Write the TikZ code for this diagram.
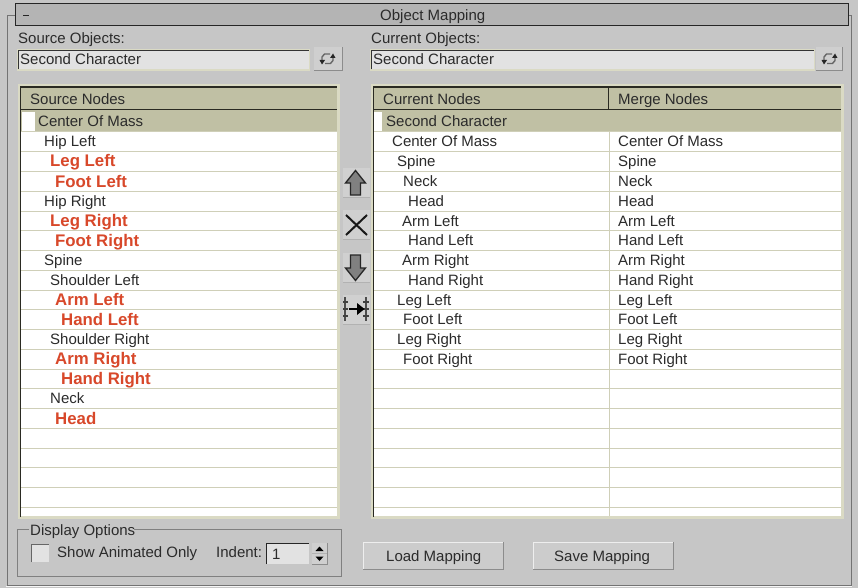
\documentclass[tikz,border=0pt]{standalone}
\usepackage{fontspec}
\setmainfont{Liberation Sans}
\definecolor{bg}{HTML}{C6C6C6}
\definecolor{bar}{HTML}{B4B4B4}
\definecolor{olive}{HTML}{C0C0A4}
\definecolor{rowline}{HTML}{CFCFB8}
\definecolor{framelight}{HTML}{DADAC4}
\definecolor{darkline}{HTML}{2A2A22}
\definecolor{field}{HTML}{E2E2E2}
\definecolor{redtxt}{HTML}{D8482A}
\definecolor{txtc}{HTML}{2B2B2B}
\tikzset{
  txt/.style={anchor=base west,inner sep=0pt,text=txtc,font=\fontsize{15}{16}\selectfont,yshift=-5pt},
  redt/.style={anchor=base west,inner sep=0pt,text=redtxt,font=\fontsize{16.8}{17}\selectfont\bfseries,yshift=-5.5pt},
  icon/.style={draw=black!85,fill=black!50,line width=1.3pt,line join=miter},
}
\begin{document}
\begin{tikzpicture}[x=1pt,y=-1pt]
\useasboundingbox (0,0) rectangle (858,588);
\fill[bg] (0,0) rectangle (858,588);
% rollout frame
\draw[black!55,line width=1pt] (15,15.5) -- (7,15.5) -- (7,585) -- (851,585) -- (851,15.5) -- (848,15.5);
\draw[white!85!bg,line width=1pt] (6,586.5) -- (852,586.5);
% title bar
\node[draw=black!85,fill=bar,line width=1pt,minimum width=833pt,minimum height=22pt,inner sep=0pt] (titlebar) at (431.5,15) {};
\node[txt] (title) at (380,15.5) {Object Mapping};
\node[draw=none,fill=black!85,minimum width=6pt,minimum height=1.2pt,inner sep=0pt] (minus) at (26,15.5) {};
% source / current object fields
\node[txt] (srclabel) at (18,38.5) {Source Objects:};
\node[txt] (curlabel) at (371,38.5) {Current Objects:};
\foreach \na/\xa/\xb/\ba/\bb in {srcfield/17/310/314/342,curfield/370/815/816/842}{
  \fill[framelight] (\xa,49) rectangle (\xb,71);
  \fill[field] (\xa+2,51) rectangle (\xb-1,69.5);
  \draw[black!80,line width=1pt] (\xa+1.5,69.5) -- (\xa+1.5,50.5) -- (\xb-1,50.5);
  \fill[bg!85!white] (\ba,47) rectangle (\bb,71);
  \draw[black!45,line width=1pt] (\ba,71) -- (\bb,71) -- (\bb,47);
  \draw[black!60,line width=1.4pt] (\ba+16,54) -- (\ba+10.5,54) -- (\ba+8,57) -- (\ba+8,61);
  \draw[black!60,line width=1.4pt] (\ba+11,63.5) -- (\ba+16.5,63.5) -- (\ba+19,60.5) -- (\ba+19,57);
  \fill[black!85] (\ba+5.5,60) -- (\ba+11,60) -- (\ba+8,64.5) -- cycle;
  \fill[black!85] (\ba+16,58) -- (\ba+21.5,58) -- (\ba+19,53.5) -- cycle;
}
\node[txt] (srcval) at (20,60) {Second Character};
\node[txt] (curval) at (373,60) {Second Character};
% left table
\fill[framelight] (18,84) rectangle (340,519);
\fill[white] (21,88) rectangle (337,516);
\fill[olive] (21,88) rectangle (337,132);
\fill[white] (22,112) rectangle (35,131);
\foreach \k in {0,...,19}{ \draw[rowline,line width=1pt] (21,132+19.75*\k) -- (337,132+19.75*\k); }
\draw[darkline,line width=1.2pt] (20.5,517) -- (20.5,87) -- (337,87);
\draw[darkline,line width=1pt] (21,110) -- (337,110);
% right table
\fill[framelight] (371,84) rectangle (844,519);
\fill[white] (374,88) rectangle (841,516);
\fill[olive] (374,88) rectangle (841,132);
\fill[white] (374,112) rectangle (382,131);
\foreach \k in {0,...,19}{ \draw[rowline,line width=1pt] (374,132+19.75*\k) -- (841,132+19.75*\k); }
\draw[rowline,line width=1pt] (609.5,132) -- (609.5,516);
\draw[darkline,line width=1.2pt] (373.5,517) -- (373.5,87) -- (841,87);
\draw[darkline,line width=1pt] (374,110) -- (841,110);
\draw[darkline,line width=1pt] (608,87) -- (608,110);
\node[txt] (h1) at (30,99.5) {Source Nodes};
\node[txt] (h2) at (383,99.5) {Current Nodes};
\node[txt] (h3) at (618,99.5) {Merge Nodes};
% left rows
\node[txt] (l0) at (38,122) {Center Of Mass};
\node[txt] (l1) at (44,142) {Hip Left};
\node[redt] (l2) at (50,161.5) {Leg Left};
\node[redt] (l3) at (55,181.5) {Foot Left};
\node[txt] (l4) at (44,201) {Hip Right};
\node[redt] (l5) at (50,221) {Leg Right};
\node[redt] (l6) at (55,240.5) {Foot Right};
\node[txt] (l7) at (44,260.5) {Spine};
\node[txt] (l8) at (50,280) {Shoulder Left};
\node[redt] (l9) at (55,300) {Arm Left};
\node[redt] (l10) at (61,319.5) {Hand Left};
\node[txt] (l11) at (50,339.5) {Shoulder Right};
\node[redt] (l12) at (55,359) {Arm Right};
\node[redt] (l13) at (61,379) {Hand Right};
\node[txt] (l14) at (50,398.5) {Neck};
\node[redt] (l15) at (55,418.5) {Head};
% right rows
\node[txt] (c0) at (386,122) {Second Character};
\node[txt] (c1) at (392,142) {Center Of Mass};
\node[txt] (c2) at (397,161.5) {Spine};
\node[txt] (c3) at (403,181.5) {Neck};
\node[txt] (c4) at (408,201) {Head};
\node[txt] (c5) at (402,221) {Arm Left};
\node[txt] (c6) at (408,240.5) {Hand Left};
\node[txt] (c7) at (402,260.5) {Arm Right};
\node[txt] (c8) at (408,280) {Hand Right};
\node[txt] (c9) at (397,300) {Leg Left};
\node[txt] (c10) at (403,319.5) {Foot Left};
\node[txt] (c11) at (397,339.5) {Leg Right};
\node[txt] (c12) at (403,359) {Foot Right};
\node[txt] (m1) at (618,142) {Center Of Mass};
\node[txt] (m2) at (618,161.5) {Spine};
\node[txt] (m3) at (618,181.5) {Neck};
\node[txt] (m4) at (618,201) {Head};
\node[txt] (m5) at (618,221) {Arm Left};
\node[txt] (m6) at (618,240.5) {Hand Left};
\node[txt] (m7) at (618,260.5) {Arm Right};
\node[txt] (m8) at (618,280) {Hand Right};
\node[txt] (m9) at (618,300) {Leg Left};
\node[txt] (m10) at (618,319.5) {Foot Left};
\node[txt] (m11) at (618,339.5) {Leg Right};
\node[txt] (m12) at (618,359) {Foot Right};
% side buttons
\foreach \ya in {168,210,253,295}{
  \fill[bg!82!white] (343,\ya) rectangle (370,\ya+29);
  \draw[black!30,line width=1pt] (343,\ya+29) -- (370,\ya+29);
}
\draw[icon] (355.5,170.5) -- (365.5,183) -- (360.5,183) -- (360.5,195) -- (350.5,195) -- (350.5,183) -- (345.5,183) -- cycle;
\draw[black!90,line width=2pt] (346,215) -- (367,235) (367,215) -- (346,235);
\draw[icon] (350.5,255) -- (360.5,255) -- (360.5,268) -- (365.5,268) -- (355.5,280.5) -- (345.5,268) -- (350.5,268) -- cycle;
\draw[black!70,line width=2pt] (345,297) -- (345,321) (366,297) -- (366,321);
\draw[black!75,line width=1.6pt] (343,302) -- (348,302) (343,309) -- (348,309) (343,316) -- (348,316)
  (363,302) -- (369,302) (363,309) -- (369,309) (363,316) -- (369,316);
\draw[black,line width=2pt] (349,309) -- (360,309);
\fill[black] (364.5,309) -- (357,303) -- (357,315) -- cycle;
% display options
\draw[black!50,line width=1pt] (29,529.5) -- (17,529.5) -- (17,576) -- (341,576) -- (341,529.5) -- (134,529.5);
\node[txt] (dolabel) at (30,530) {Display Options};
\fill[field] (31,544) rectangle (49,562);
\draw[black!60,line width=1.2pt] (31.5,562) -- (31.5,544.5) -- (49,544.5);
\node[txt] (chk) at (57,552.5) {Show Animated Only};
\node[txt] (ind) at (216,552) {Indent:};
\fill[field] (266,543) rectangle (309,564);
\draw[black!85,line width=1pt] (266.5,564) -- (266.5,543.5) -- (309,543.5);
\node[txt] (indval) at (272,554) {1};
\fill[bg!85!white] (312,543) rectangle (327,564);
\draw[black!45,line width=1pt] (312,564) -- (327,564) -- (327,543);
\draw[black!30,line width=.8pt] (312,553.5) -- (327,553.5);
\fill[black] (319.5,546.5) -- (323.5,551) -- (315.5,551) -- cycle;
\fill[black] (319.5,561) -- (323.5,556.5) -- (315.5,556.5) -- cycle;
% buttons
\foreach \xa in {363,533}{
  \fill[bg!90!white] (\xa,542) rectangle (\xa+140,569);
  \draw[black!45,line width=1pt] (\xa,569) -- (\xa+140,569) -- (\xa+140,542);
  \draw[white!70!bg,line width=1pt] (\xa,569) -- (\xa,542) -- (\xa+140,542);
}
\node[txt] (load) at (386,556) {Load Mapping};
\node[txt] (save) at (554,556) {Save Mapping};
\end{tikzpicture}
\end{document}
